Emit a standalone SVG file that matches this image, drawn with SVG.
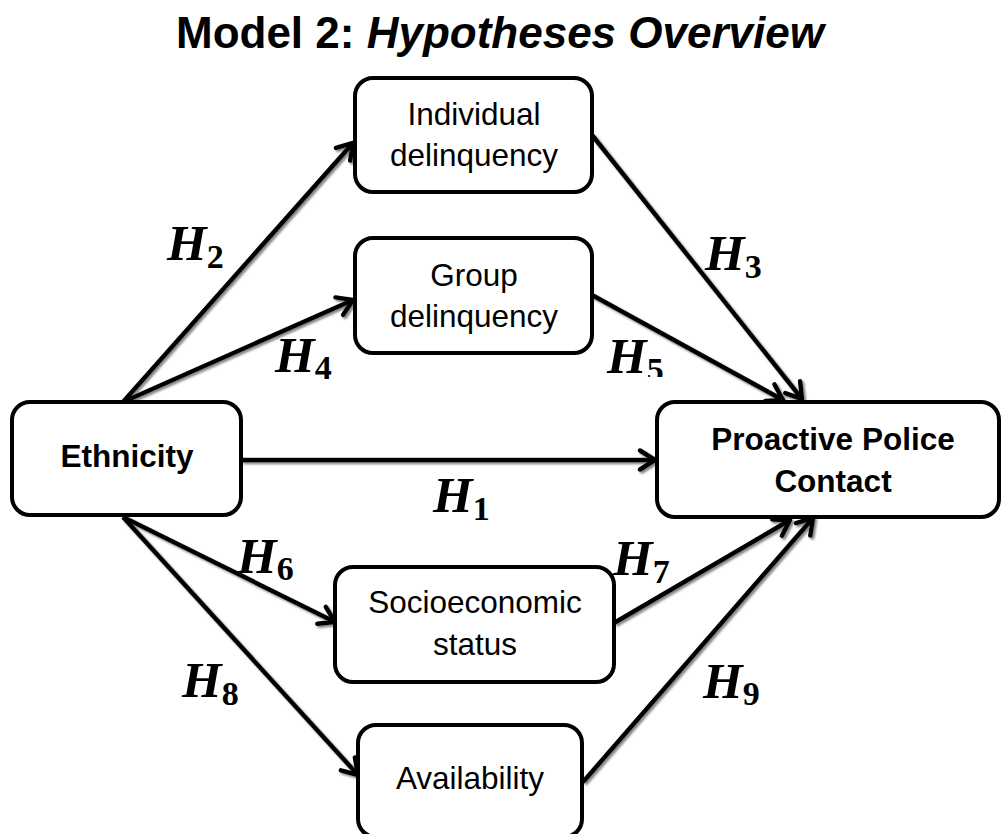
<svg xmlns="http://www.w3.org/2000/svg" width="1001" height="834" viewBox="0 0 1001 834">
<style>
.box{fill:#fff;stroke:#000;stroke-width:4}
.lbl{font-family:"Liberation Sans",Arial,sans-serif;font-size:31.5px;fill:#000;text-anchor:middle}
.b{font-weight:bold}
.h{font-family:"Liberation Serif","Times New Roman",serif;font-size:51px;font-weight:bold;font-style:italic;fill:#000}
.sub{font-size:34px;font-style:normal}
.con line{stroke:#000;stroke-width:4.5;marker-end:url(#arr)}
</style>
<defs>
<marker id="arr" markerUnits="userSpaceOnUse" viewBox="-20 -14 24 28" refX="0" refY="0" markerWidth="24" markerHeight="28" orient="auto">
<path d="M-15,-9.5 L0,0 L-15,9.5" fill="none" stroke="#000" stroke-width="4.5" stroke-linecap="round" stroke-linejoin="round"/>
</marker>
<filter id="sh" x="-10%" y="-10%" width="120%" height="120%">
<feDropShadow dx="2" dy="2" stdDeviation="1" flood-color="#666" flood-opacity="0.8"/>
</filter>
<clipPath id="c5"><rect x="590" y="300" width="100" height="77"/></clipPath>
</defs>
<rect width="1001" height="834" fill="#fff"/>
<text x="500" y="48" font-family="'Liberation Sans',Arial,sans-serif" font-size="44" font-weight="bold" text-anchor="middle">Model 2: <tspan font-style="italic">Hypotheses Overview</tspan></text>

<g id="connectors" class="con" filter="url(#sh)">
<line x1="123" y1="402" x2="353" y2="143"/>
<line x1="123" y1="402" x2="353" y2="300"/>
<line x1="241" y1="460" x2="655" y2="460"/>
<line x1="592" y1="135" x2="802" y2="399"/>
<line x1="592" y1="295" x2="783" y2="400"/>
<line x1="123" y1="517" x2="335" y2="622"/>
<line x1="123" y1="517" x2="358" y2="775"/>
<line x1="614" y1="623" x2="790" y2="520"/>
<line x1="583" y1="782" x2="813" y2="518"/>
</g>

<g id="individual">
<rect class="box" x="355" y="78" width="237" height="114" rx="18"/>
<text class="lbl" x="474" y="125">Individual</text>
<text class="lbl" x="474" y="166">delinquency</text>
</g>
<g id="group">
<rect class="box" x="355" y="238" width="237" height="115" rx="18"/>
<text class="lbl" x="474" y="286">Group</text>
<text class="lbl" x="474" y="327">delinquency</text>
</g>
<g id="ethnicity">
<rect class="box" x="12" y="402" width="229" height="113" rx="18"/>
<text class="lbl b" x="127" y="467">Ethnicity</text>
</g>
<g id="proactive">
<rect class="box" x="657" y="402" width="342" height="115" rx="18"/>
<text class="lbl b" x="833" y="450">Proactive Police</text>
<text class="lbl b" x="833" y="492">Contact</text>
</g>
<g id="socio">
<rect class="box" x="335" y="567" width="279" height="115" rx="18"/>
<text class="lbl" x="475" y="613">Socioeconomic</text>
<text class="lbl" x="475" y="655">status</text>
</g>
<g id="availability">
<rect class="box" x="358" y="725" width="224" height="112" rx="18"/>
<text class="lbl" x="470" y="789">Availability</text>
</g>

<g id="labels">
<text class="h" x="167" y="260">H<tspan class="sub" dy="8">2</tspan></text>
<text class="h" x="275" y="372">H<tspan class="sub" dy="7">4</tspan></text>
<text class="h" x="705" y="270">H<tspan class="sub" dy="8">3</tspan></text>
<text class="h" x="607" y="373" clip-path="url(#c5)">H<tspan class="sub" dy="8">5</tspan></text>
<text class="h" x="433" y="512">H<tspan class="sub" dy="8">1</tspan></text>
<text class="h" x="237" y="573">H<tspan class="sub" dy="7">6</tspan></text>
<text class="h" x="182" y="697">H<tspan class="sub" dy="8">8</tspan></text>
<text class="h" x="613" y="575">H<tspan class="sub" dy="8">7</tspan></text>
<text class="h" x="703" y="698">H<tspan class="sub" dy="7">9</tspan></text>
</g>
</svg>
